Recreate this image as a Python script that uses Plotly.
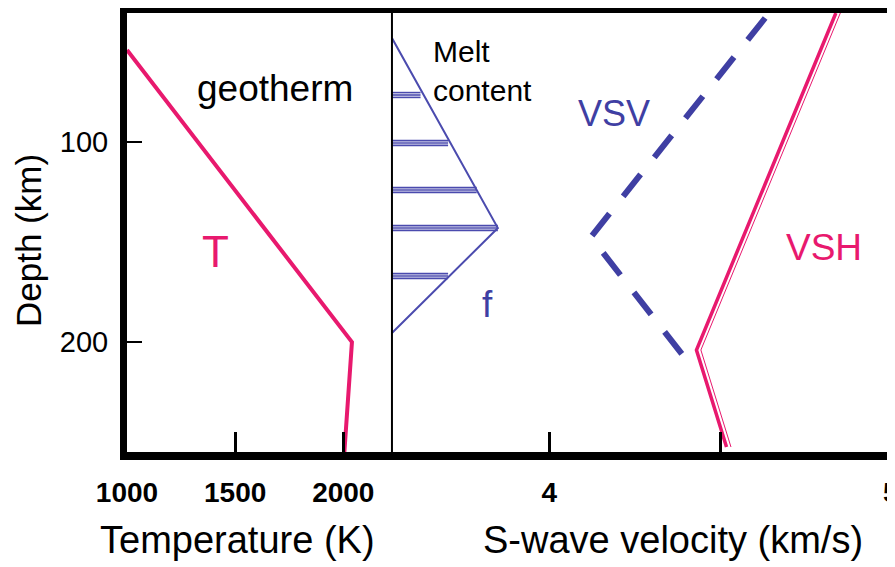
import plotly.graph_objects as go

# ---------------- data ----------------
# Geotherm (left panel)
geo_temp = [1000, 2040, 2005]          # K
geo_depth = [54, 200, 255]             # km

# Melt content triangle (right panel, own hidden axis, %)
melt_f = [0.0, 1.0, 0.0]
melt_depth = [48, 143, 195.5]
# hatch bars: depth and extent of melt content
hatch_depth = [76.5, 100.5, 124, 143, 167]
hatch_f = [0.27, 0.53, 0.80, 1.0, 0.53]

# S-wave velocities (right panel)
vsv_v = [4.632, 4.122, 4.402]
vsv_depth = [38, 147.5, 209]
vsh_v = [4.839, 4.431, 4.519]
vsh_depth = [35.5, 204, 252.5]

temp_ticks = [1000, 1500, 2000]
vel_ticks = [4, 4.5, 5]
vel_ticktext = ["4", "", "5"]
depth_ticks = [100, 200]

PINK = "#E8196E"
BLUE = "#3F3FA3"
TRI = "#4B4BAE"
FONT = "Liberation Sans, Arial, Helvetica, sans-serif"
SPLIT = 0.345

fig = go.Figure()

# geotherm
fig.add_trace(go.Scatter(x=geo_temp, y=geo_depth, mode="lines",
                         line=dict(color=PINK, width=4),
                         xaxis="x", yaxis="y", showlegend=False))

# melt triangle
fig.add_trace(go.Scatter(x=melt_f, y=melt_depth, mode="lines",
                         line=dict(color=TRI, width=2),
                         xaxis="x3", yaxis="y", showlegend=False))
# hatch (triple thin lines)
hx, hy = [], []
for d, f in zip(hatch_depth, hatch_f):
    for off in (-1.2, 0.0, 1.2):
        hx += [0, f, None]
        hy += [d + off, d + off, None]
fig.add_trace(go.Scatter(x=hx, y=hy, mode="lines",
                         line=dict(color=TRI, width=1.6),
                         xaxis="x3", yaxis="y", showlegend=False))

# VSV dashed
fig.add_trace(go.Scatter(x=vsv_v, y=vsv_depth, mode="lines",
                         line=dict(color=BLUE, width=6, dash="28px,22px"),
                         xaxis="x2", yaxis="y", showlegend=False))

# VSH double line
fig.add_trace(go.Scatter(x=vsh_v, y=vsh_depth, mode="lines",
                         line=dict(color=PINK, width=3.5),
                         xaxis="x2", yaxis="y", showlegend=False))
fig.add_trace(go.Scatter(x=[v + 0.013 for v in vsh_v], y=vsh_depth, mode="lines",
                         line=dict(color=PINK, width=1),
                         xaxis="x2", yaxis="y", showlegend=False))

# divider between panels
fig.add_shape(type="line", xref="paper", yref="paper", x0=SPLIT, x1=SPLIT,
              y0=0, y1=1, line=dict(color="black", width=2))

ann = dict(showarrow=False, xanchor="center", yanchor="middle")
fig.add_annotation(x=1684, y=73, xref="x", yref="y", text="geotherm",
                   font=dict(family=FONT, size=37, color="black"), **ann)
fig.add_annotation(x=1411, y=154.5, xref="x", yref="y", text="T",
                   font=dict(family=FONT, size=44, color=PINK), **ann)
fig.add_annotation(x=3.655, y=64.5, xref="x2", yref="y", text="Melt<br>content",
                   xanchor="left", yanchor="middle", align="left", showarrow=False,
                   font=dict(family=FONT, size=30, color="black"))
fig.add_annotation(x=4.19, y=85.5, xref="x2", yref="y", text="VSV",
                   font=dict(family=FONT, size=36, color=BLUE), **ann)
fig.add_annotation(x=3.82, y=181, xref="x2", yref="y", text="f",
                   font=dict(family=FONT, size=37, color=BLUE), **ann)
fig.add_annotation(x=4.804, y=152.5, xref="x2", yref="y", text="VSH",
                   font=dict(family=FONT, size=37, color=PINK), **ann)

# axis titles (paper coords relative to plot area)
fig.add_annotation(x=0.1445, y=-0.2005, xref="paper", yref="paper",
                   text="Temperature (K)",
                   font=dict(family=FONT, size=38, color="black"), **ann)
fig.add_annotation(x=0.711, y=-0.2005, xref="paper", yref="paper",
                   text="S-wave velocity (km/s)",
                   font=dict(family=FONT, size=38, color="black"), **ann)
fig.add_annotation(x=-0.1289, y=0.4806, xref="paper", yref="paper",
                   text="Depth (km)", textangle=-90,
                   font=dict(family=FONT, size=35, color="black"), **ann)

tickfont_b = dict(family=FONT, size=28, color="black", weight="bold")
fig.update_layout(
    width=887, height=559,
    margin=dict(l=119, r=0, t=5, b=115, autoexpand=False),
    plot_bgcolor="white", paper_bgcolor="white",
    font=dict(family=FONT, color="black"),
    xaxis=dict(domain=[0, SPLIT], range=[1000, 2225], anchor="y",
               tickvals=temp_ticks, ticks="inside", ticklen=20, tickwidth=3,
               tickcolor="black", showline=True, linewidth=8, linecolor="black",
               mirror=True, showgrid=False, zeroline=False, automargin=False,
               ticklabelstandoff=8, ticklabeloverflow="allow",
               tickfont=tickfont_b),
    xaxis2=dict(domain=[SPLIT, 1], range=[3.54, 5.012], anchor="y",
                tickvals=vel_ticks, ticktext=vel_ticktext, ticks="inside",
                ticklen=20, tickwidth=3, tickcolor="black",
                showline=True, linewidth=8, linecolor="black", mirror=True,
                showgrid=False, zeroline=False, automargin=False,
                ticklabelstandoff=8, ticklabeloverflow="allow",
                tickfont=tickfont_b),
    xaxis3=dict(overlaying="x2", range=[0, 4.75], anchor="y", visible=False),
    yaxis=dict(domain=[0, 1], range=[255, 35.5], anchor="x",
               tickvals=depth_ticks, ticks="inside", ticklen=15, tickwidth=2,
               tickcolor="black", showline=True, linewidth=7, linecolor="black",
               showgrid=False, zeroline=False, automargin=False,
               ticklabelstandoff=6,
               tickfont=dict(family=FONT, size=29, color="black")),
)

fig.write_html("out.html")
